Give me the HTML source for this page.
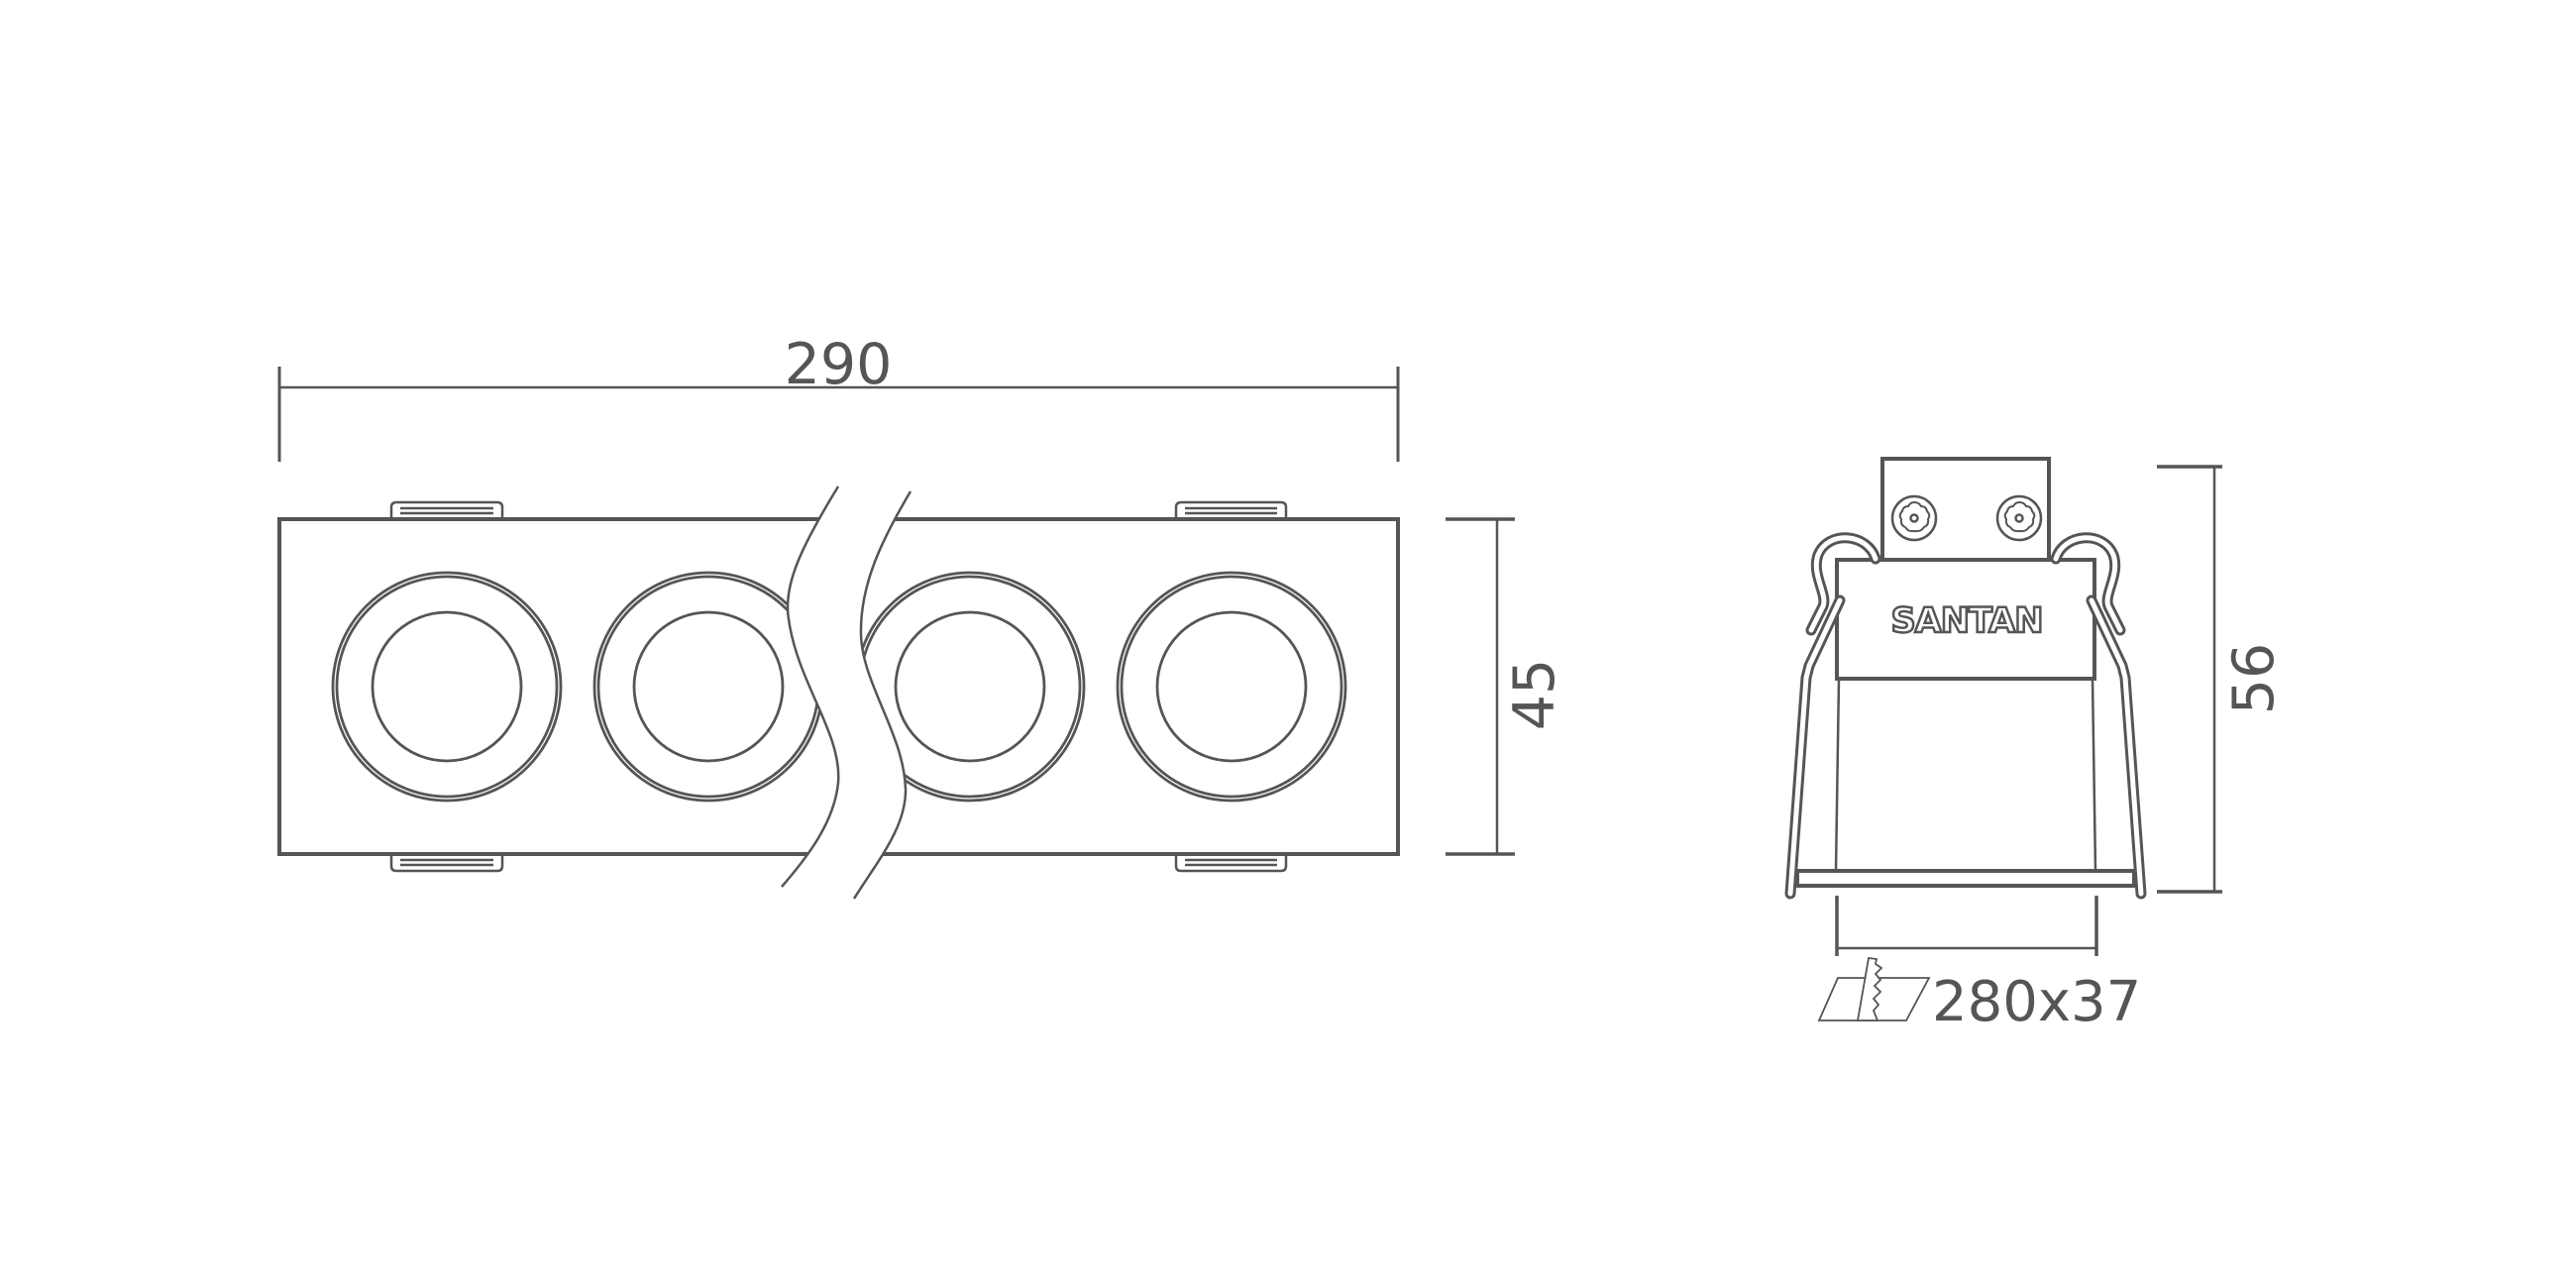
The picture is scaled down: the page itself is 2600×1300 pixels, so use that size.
<!DOCTYPE html>
<html><head><style>
html,body{margin:0;padding:0;background:#fff;}
svg{display:block;}
text{font-family:"DejaVu Sans","Liberation Sans",sans-serif;fill:#555;}
</style></head><body>
<svg width="2600" height="1300" viewBox="0 0 2600 1300" xmlns="http://www.w3.org/2000/svg">
<g stroke="#555" fill="none" stroke-width="3">
  <line x1="282" y1="391" x2="1411" y2="391" stroke-width="2.5"/>
  <line x1="282" y1="370" x2="282" y2="466"/>
  <line x1="1411" y1="370" x2="1411" y2="466"/>
  <rect x="282" y="524" width="1129" height="338" stroke-width="4"/>
  <g stroke-width="2.5">
    <path d="M395,524 V512 Q395,507 400,507 H502 Q507,507 507,512 V524"/>
    <line x1="404" y1="513" x2="498" y2="513"/><line x1="404" y1="518" x2="498" y2="518"/>
    <path d="M1187,524 V512 Q1187,507 1192,507 H1293 Q1298,507 1298,512 V524"/>
    <line x1="1196" y1="513" x2="1289" y2="513"/><line x1="1196" y1="518" x2="1289" y2="518"/>
    <path d="M395,862 V874 Q395,879 400,879 H502 Q507,879 507,874 V862"/>
    <line x1="404" y1="868" x2="498" y2="868"/><line x1="404" y1="873" x2="498" y2="873"/>
    <path d="M1187,862 V874 Q1187,879 1192,879 H1293 Q1298,879 1298,874 V862"/>
    <line x1="1196" y1="868" x2="1289" y2="868"/><line x1="1196" y1="873" x2="1289" y2="873"/>
  </g>
  <g stroke-width="2.8">
    <circle cx="451" cy="693" r="115"/><circle cx="451" cy="693" r="111"/><circle cx="451" cy="693" r="75"/>
    <circle cx="715" cy="693" r="115"/><circle cx="715" cy="693" r="111"/><circle cx="715" cy="693" r="75"/>
    <circle cx="979" cy="693" r="115"/><circle cx="979" cy="693" r="111"/><circle cx="979" cy="693" r="75"/>
    <circle cx="1243" cy="693" r="115"/><circle cx="1243" cy="693" r="111"/><circle cx="1243" cy="693" r="75"/>
  </g>
  <path d="M846,491 C810,550 790,590 796,625 C805,690 850,740 846,790 C842,830 815,865 789,895 L862,907 C885,870 915,835 914,796 C912,740 870,690 869,640 C868,590 890,545 919,496 Z" fill="#fff" stroke="none"/>
  <path d="M846,491 C810,550 790,590 796,625 C805,690 850,740 846,790 C842,830 815,865 789,895" stroke-width="2.5"/>
  <path d="M919,496 C890,545 868,590 869,640 C870,690 912,740 914,796 C915,835 885,870 862,907" stroke-width="2.5"/>
  <line x1="1511" y1="524" x2="1511" y2="862" stroke-width="2.5"/>
  <line x1="1459" y1="524" x2="1529" y2="524" stroke-width="3.5"/>
  <line x1="1459" y1="862" x2="1529" y2="862" stroke-width="3.5"/>

  <path d="M1900,565 V463 H2068 V565" stroke-width="4"/>
  <rect x="1854" y="565" width="260" height="120" stroke-width="4"/>
  <line x1="1856" y1="685" x2="1853" y2="879" stroke-width="2.5"/>
  <line x1="2112" y1="685" x2="2115" y2="879" stroke-width="2.5"/>
  <rect x="1814" y="879" width="340" height="15" stroke-width="4"/>
  <g stroke-width="2.5">
    <circle cx="1932" cy="523" r="22"/>
    <path d="M1932,507 q5,0 7,4 q5,0 6,5 q4,4 1,8 q1,6 -4,8 q-3,5 -10,4 q-6,1 -9,-4 q-5,-2 -4,-8 q-3,-4 1,-8 q1,-5 6,-5 q2,-4 6,-4z" stroke-width="2"/>
    <circle cx="1932" cy="523" r="3.5"/>
    <circle cx="2038" cy="523" r="22"/>
    <path d="M2038,507 q5,0 7,4 q5,0 6,5 q4,4 1,8 q1,6 -4,8 q-3,5 -10,4 q-6,1 -9,-4 q-5,-2 -4,-8 q-3,-4 1,-8 q1,-5 6,-5 q2,-4 6,-4z" stroke-width="2"/>
    <circle cx="2038" cy="523" r="3.5"/>
  </g>
  <g id="spr">
    <path d="M1893,564 C1885,538 1845,535 1835,560 C1828,580 1845,600 1840,612 L1828,636" stroke="#555" stroke-width="11" stroke-linecap="round"/>
    <path d="M1893,564 C1885,538 1845,535 1835,560 C1828,580 1845,600 1840,612 L1828,636" stroke="#fff" stroke-width="5" stroke-linecap="round"/>
    <path d="M1857,606 L1826,672 L1823,684 L1807,902" stroke="#555" stroke-width="11" stroke-linecap="round"/>
    <path d="M1857,606 L1826,672 L1823,684 L1807,902" stroke="#fff" stroke-width="5" stroke-linecap="round"/>
  </g>
  <use href="#spr" transform="translate(3968,0) scale(-1,1)"/>
  <line x1="2235" y1="471" x2="2235" y2="900" stroke-width="2.5"/>
  <line x1="2177" y1="471" x2="2243" y2="471" stroke-width="3.5"/>
  <line x1="2177" y1="900" x2="2243" y2="900" stroke-width="3.5"/>
  <line x1="1854" y1="957" x2="2116" y2="957" stroke-width="2.5"/>
  <line x1="1854" y1="904" x2="1854" y2="965" stroke-width="3.5"/>
  <line x1="2116" y1="904" x2="2116" y2="965" stroke-width="3.5"/>
  <g stroke-width="1.8">
    <path d="M1855,987 H1947 L1924,1030 H1836 Z"/>
  </g>
</g>
<path d="M1886,967 L1875,1030 L1895,1030 L1891,1020 L1896,1014 L1891,1008 L1898,1001 L1892,995 L1898,989 L1893,983 L1899,977 L1893,973 L1894,968 Z" fill="#fff" stroke="#555" stroke-width="1.8"/>
<text x="846" y="387" font-size="57" text-anchor="middle">290</text>
<text transform="translate(1568,701) rotate(-90)" font-size="57" text-anchor="middle">45</text>
<text transform="translate(2294,685) rotate(-90)" font-size="57" text-anchor="middle">56</text>
<text x="1950" y="1030" font-size="56">280x37</text>
<text x="1985" y="638" font-size="35" text-anchor="middle" style="fill:#fff;stroke:#555;stroke-width:2.5;font-weight:bold;letter-spacing:-1px">SANTAN</text>
</svg>
</body></html>
